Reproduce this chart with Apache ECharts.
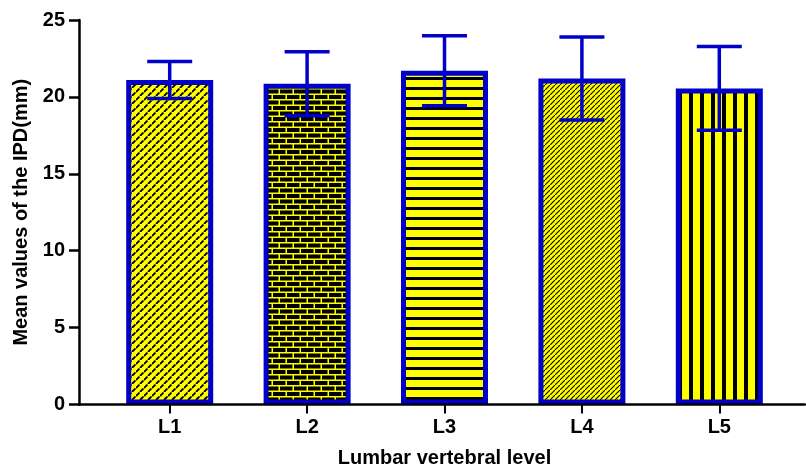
<!DOCTYPE html>
<html>
<head>
<meta charset="utf-8">
<script src="https://cdn.jsdelivr.net/npm/echarts@6/dist/echarts.min.js"></script>
<style>
  html, body { margin: 0; padding: 0; background: #fff; }
  #main { width: 806px; height: 469px; }
</style>
</head>
<body>
<div id="main"></div>
<script>
  // data
  var categories = ['L1', 'L2', 'L3', 'L4', 'L5'];
  var means = [21.1, 20.85, 21.7, 21.2, 20.55];
  var sds = [1.2, 2.08, 2.27, 2.7, 2.72];
  var yTicks = [0, 5, 10, 15, 20, 25];

  var BLUE = '#0000c8';
  var YEL = '#ffff00';
  var FONT = 'Liberation Sans, Arial, sans-serif';

  function tile(w, h, draw) {
    var c = document.createElement('canvas');
    c.width = w; c.height = h;
    var ctx = c.getContext('2d');
    ctx.fillStyle = YEL;
    ctx.fillRect(0, 0, w, h);
    draw(ctx);
    return { image: c, repeat: 'repeat' };
  }

  // weave of short diagonal dashes
  var p1 = tile(8, 8, function (ctx) {
    ctx.strokeStyle = '#000'; ctx.lineWidth = 1.8;
    ctx.beginPath();
    ctx.moveTo(0, 4); ctx.lineTo(3.5, 0.5);
    ctx.moveTo(4, 8); ctx.lineTo(7.5, 4.5);
    ctx.stroke();
  });
  // bricks: black with yellow mortar
  var p2 = tile(14, 11, function (ctx) {
    ctx.fillStyle = '#000';
    ctx.fillRect(0, 1.5, 12.5, 4);
    ctx.fillRect(0, 7, 5.5, 4);
    ctx.fillRect(7, 7, 7, 4);
  });
  // horizontal stripes
  var p3 = tile(10, 10, function (ctx) {
    ctx.fillStyle = '#000';
    ctx.fillRect(0, 7, 10, 3);
  });
  // diagonal hatch
  var p4 = tile(5, 5, function (ctx) {
    ctx.strokeStyle = '#000'; ctx.lineWidth = 1.1;
    ctx.beginPath();
    ctx.moveTo(-1, 6); ctx.lineTo(6, -1);
    ctx.stroke();
  });
  // vertical stripes
  var p5 = tile(11, 10, function (ctx) {
    ctx.fillStyle = '#000';
    ctx.fillRect(7, 0, 4, 10);
  });
  var patterns = [p1, p2, p3, p4, p5];

  var chart = echarts.init(document.getElementById('main'));

  var option = {
    animation: false,
    grid: [
      { left: 101, right: 18, top: 20, bottom: 64.5, outerBoundsMode: 'none', containLabel: false },
      { left: 79, right: 1, top: 20, bottom: 64.5, outerBoundsMode: 'none', containLabel: false }
    ],
    xAxis: [
      {
        type: 'category',
        gridIndex: 0,
        data: categories,
        name: 'Lumbar vertebral level',
        nameLocation: 'middle',
        nameGap: 44,
        nameTextStyle: { fontFamily: FONT, fontWeight: 'bold', fontSize: 20, color: '#000' },
        axisLine: { show: false },
        axisTick: { show: true, alignWithLabel: true, length: 9, lineStyle: { color: '#000', width: 2 } },
        axisLabel: { margin: 13, fontFamily: FONT, fontWeight: 'bold', fontSize: 20, color: '#000' },
        splitLine: { show: false }
      },
      {
        type: 'value',
        gridIndex: 1,
        min: 0, max: 1,
        z: 5,
        axisLine: { show: true, lineStyle: { color: '#000', width: 2.5 } },
        axisTick: { show: false },
        axisLabel: { show: false },
        splitLine: { show: false }
      }
    ],
    yAxis: [
      {
        type: 'value',
        gridIndex: 0,
        min: yTicks[0],
        max: yTicks[yTicks.length - 1],
        interval: 5,
        offset: 22,
        name: 'Mean values of the IPD(mm)',
        nameLocation: 'middle',
        nameGap: 47,
        nameTextStyle: { fontFamily: FONT, fontWeight: 'bold', fontSize: 20, color: '#000' },
        axisLine: { show: true, lineStyle: { color: '#000', width: 2.5 } },
        axisTick: { show: true, length: 10, lineStyle: { color: '#000', width: 2.5 } },
        axisLabel: { margin: 14, fontFamily: FONT, fontWeight: 'bold', fontSize: 20, color: '#000' },
        splitLine: { show: false }
      },
      { type: 'value', gridIndex: 1, show: false, min: 0, max: 1 }
    ],
    series: [
      {
        type: 'bar',
        xAxisIndex: 0, yAxisIndex: 0,
        barWidth: 87,
        data: means.map(function (m, i) {
          return {
            value: m,
            itemStyle: { color: patterns[i], borderColor: BLUE, borderWidth: 5 }
          };
        }),
        z: 2
      },
      {
        type: 'custom',
        xAxisIndex: 0, yAxisIndex: 0,
        z: 4,
        data: categories.map(function (c, i) { return [i, means[i], sds[i]]; }),
        renderItem: function (params, api) {
          var i = api.value(0), m = api.value(1), s = api.value(2);
          var top = api.coord([i, m + s]);
          var bot = api.coord([i, m - s]);
          var half = 22.5;
          var st = { stroke: BLUE, lineWidth: 3.5 };
          return {
            type: 'group',
            children: [
              { type: 'line', shape: { x1: top[0], y1: top[1], x2: bot[0], y2: bot[1] }, style: st },
              { type: 'line', shape: { x1: top[0] - half, y1: top[1], x2: top[0] + half, y2: top[1] }, style: st },
              { type: 'line', shape: { x1: bot[0] - half, y1: bot[1], x2: bot[0] + half, y2: bot[1] }, style: st }
            ]
          };
        }
      }
    ]
  };

  chart.setOption(option);
</script>
</body>
</html>
